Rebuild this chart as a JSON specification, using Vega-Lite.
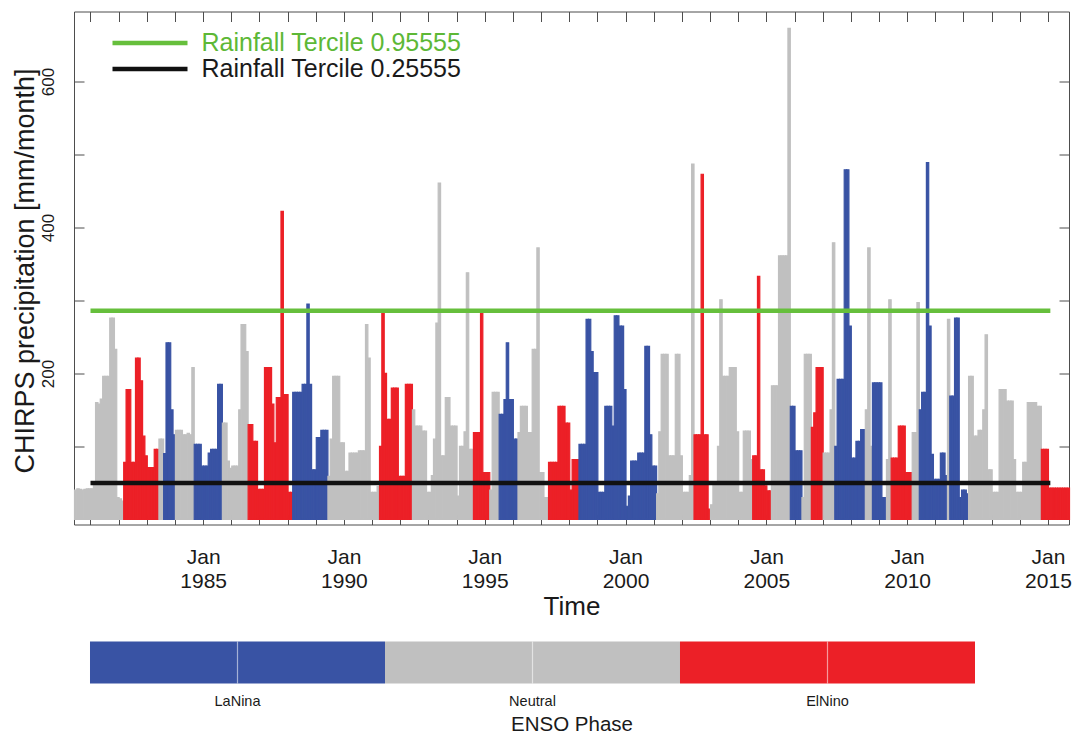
{
  "$schema": "https://vega.github.io/schema/vega-lite/v6.json",
  "background": "white",
  "padding": {"left": 10, "top": 10.5, "right": 0, "bottom": 0},
  "spacing": 20,
  "config": {
    "font": "Liberation Sans",
    "view": {"stroke": "#4d4d4d", "strokeWidth": 1},
    "axis": {"domain": false, "grid": false, "ticks": true, "tickColor": "#4d4d4d", "tickWidth": 1, "labelColor": "#1a1a1a", "titleColor": "#1a1a1a", "titleFontWeight": "normal", "zindex": 1}
  },
  "datasets": {
    "months": [
      {"d":"1980-06-01","p":40,"e":"Neutral"},{"d":"1980-07-01","p":42,"e":"Neutral"},{"d":"1980-08-01","p":41,"e":"Neutral"},{"d":"1980-09-01","p":40,"e":"Neutral"},{"d":"1980-10-01","p":41,"e":"Neutral"},{"d":"1980-11-01","p":42,"e":"Neutral"},{"d":"1980-12-01","p":42,"e":"Neutral"},
      {"d":"1981-01-01","p":42,"e":"Neutral"},{"d":"1981-02-01","p":48,"e":"Neutral"},{"d":"1981-03-01","p":160,"e":"Neutral"},{"d":"1981-04-01","p":158,"e":"Neutral"},{"d":"1981-05-01","p":165,"e":"Neutral"},{"d":"1981-06-01","p":196,"e":"Neutral"},{"d":"1981-07-01","p":196,"e":"Neutral"},{"d":"1981-08-01","p":196,"e":"Neutral"},{"d":"1981-09-01","p":276,"e":"Neutral"},{"d":"1981-10-01","p":276,"e":"Neutral"},{"d":"1981-11-01","p":233,"e":"Neutral"},{"d":"1981-12-01","p":30,"e":"Neutral"},
      {"d":"1982-01-01","p":28,"e":"Neutral"},{"d":"1982-02-01","p":25,"e":"Neutral"},{"d":"1982-03-01","p":78,"e":"ElNino"},{"d":"1982-04-01","p":178,"e":"ElNino"},{"d":"1982-05-01","p":178,"e":"ElNino"},{"d":"1982-06-01","p":78,"e":"ElNino"},{"d":"1982-07-01","p":78,"e":"ElNino"},{"d":"1982-08-01","p":221,"e":"ElNino"},{"d":"1982-09-01","p":221,"e":"ElNino"},{"d":"1982-10-01","p":190,"e":"ElNino"},{"d":"1982-11-01","p":114,"e":"ElNino"},{"d":"1982-12-01","p":87,"e":"ElNino"},
      {"d":"1983-01-01","p":71,"e":"ElNino"},{"d":"1983-02-01","p":71,"e":"ElNino"},{"d":"1983-03-01","p":71,"e":"ElNino"},{"d":"1983-04-01","p":96,"e":"ElNino"},{"d":"1983-05-01","p":96,"e":"ElNino"},{"d":"1983-06-01","p":110,"e":"Neutral"},{"d":"1983-07-01","p":110,"e":"Neutral"},{"d":"1983-08-01","p":90,"e":"LaNina"},{"d":"1983-09-01","p":242,"e":"LaNina"},{"d":"1983-10-01","p":242,"e":"LaNina"},{"d":"1983-11-01","p":150,"e":"LaNina"},{"d":"1983-12-01","p":116,"e":"LaNina"},
      {"d":"1984-01-01","p":122,"e":"Neutral"},{"d":"1984-02-01","p":122,"e":"Neutral"},{"d":"1984-03-01","p":122,"e":"Neutral"},{"d":"1984-04-01","p":116,"e":"Neutral"},{"d":"1984-05-01","p":116,"e":"Neutral"},{"d":"1984-06-01","p":118,"e":"Neutral"},{"d":"1984-07-01","p":116,"e":"Neutral"},{"d":"1984-08-01","p":208,"e":"Neutral"},{"d":"1984-09-01","p":103,"e":"LaNina"},{"d":"1984-10-01","p":103,"e":"LaNina"},{"d":"1984-11-01","p":103,"e":"LaNina"},{"d":"1984-12-01","p":73,"e":"LaNina"},
      {"d":"1985-01-01","p":73,"e":"LaNina"},{"d":"1985-02-01","p":73,"e":"LaNina"},{"d":"1985-03-01","p":91,"e":"LaNina"},{"d":"1985-04-01","p":96,"e":"LaNina"},{"d":"1985-05-01","p":96,"e":"LaNina"},{"d":"1985-06-01","p":96,"e":"LaNina"},{"d":"1985-07-01","p":185,"e":"LaNina"},{"d":"1985-08-01","p":185,"e":"LaNina"},{"d":"1985-09-01","p":132,"e":"Neutral"},{"d":"1985-10-01","p":132,"e":"Neutral"},{"d":"1985-11-01","p":80,"e":"Neutral"},{"d":"1985-12-01","p":70,"e":"Neutral"},
      {"d":"1986-01-01","p":73,"e":"Neutral"},{"d":"1986-02-01","p":73,"e":"Neutral"},{"d":"1986-03-01","p":73,"e":"Neutral"},{"d":"1986-04-01","p":150,"e":"Neutral"},{"d":"1986-05-01","p":267,"e":"Neutral"},{"d":"1986-06-01","p":267,"e":"Neutral"},{"d":"1986-07-01","p":230,"e":"Neutral"},{"d":"1986-08-01","p":130,"e":"ElNino"},{"d":"1986-09-01","p":130,"e":"ElNino"},{"d":"1986-10-01","p":107,"e":"ElNino"},{"d":"1986-11-01","p":107,"e":"ElNino"},{"d":"1986-12-01","p":41,"e":"ElNino"},
      {"d":"1987-01-01","p":41,"e":"ElNino"},{"d":"1987-02-01","p":41,"e":"ElNino"},{"d":"1987-03-01","p":208,"e":"ElNino"},{"d":"1987-04-01","p":208,"e":"ElNino"},{"d":"1987-05-01","p":208,"e":"ElNino"},{"d":"1987-06-01","p":158,"e":"ElNino"},{"d":"1987-07-01","p":105,"e":"ElNino"},{"d":"1987-08-01","p":167,"e":"ElNino"},{"d":"1987-09-01","p":167,"e":"ElNino"},{"d":"1987-10-01","p":422,"e":"ElNino"},{"d":"1987-11-01","p":171,"e":"ElNino"},{"d":"1987-12-01","p":171,"e":"ElNino"},
      {"d":"1988-01-01","p":37,"e":"ElNino"},{"d":"1988-02-01","p":37,"e":"ElNino"},{"d":"1988-03-01","p":174,"e":"LaNina"},{"d":"1988-04-01","p":174,"e":"LaNina"},{"d":"1988-05-01","p":174,"e":"LaNina"},{"d":"1988-06-01","p":174,"e":"LaNina"},{"d":"1988-07-01","p":185,"e":"LaNina"},{"d":"1988-08-01","p":185,"e":"LaNina"},{"d":"1988-09-01","p":295,"e":"LaNina"},{"d":"1988-10-01","p":185,"e":"LaNina"},{"d":"1988-11-01","p":68,"e":"LaNina"},{"d":"1988-12-01","p":68,"e":"LaNina"},
      {"d":"1989-01-01","p":112,"e":"LaNina"},{"d":"1989-02-01","p":112,"e":"LaNina"},{"d":"1989-03-01","p":122,"e":"LaNina"},{"d":"1989-04-01","p":122,"e":"LaNina"},{"d":"1989-05-01","p":122,"e":"LaNina"},{"d":"1989-06-01","p":59,"e":"Neutral"},{"d":"1989-07-01","p":110,"e":"Neutral"},{"d":"1989-08-01","p":196,"e":"Neutral"},{"d":"1989-09-01","p":196,"e":"Neutral"},{"d":"1989-10-01","p":196,"e":"Neutral"},{"d":"1989-11-01","p":105,"e":"Neutral"},{"d":"1989-12-01","p":105,"e":"Neutral"},
      {"d":"1990-01-01","p":66,"e":"Neutral"},{"d":"1990-02-01","p":66,"e":"Neutral"},{"d":"1990-03-01","p":91,"e":"Neutral"},{"d":"1990-04-01","p":91,"e":"Neutral"},{"d":"1990-05-01","p":91,"e":"Neutral"},{"d":"1990-06-01","p":91,"e":"Neutral"},{"d":"1990-07-01","p":94,"e":"Neutral"},{"d":"1990-08-01","p":94,"e":"Neutral"},{"d":"1990-09-01","p":94,"e":"Neutral"},{"d":"1990-10-01","p":267,"e":"Neutral"},{"d":"1990-11-01","p":221,"e":"Neutral"},{"d":"1990-12-01","p":37,"e":"Neutral"},
      {"d":"1991-01-01","p":37,"e":"Neutral"},{"d":"1991-02-01","p":37,"e":"Neutral"},{"d":"1991-03-01","p":45,"e":"Neutral"},{"d":"1991-04-01","p":100,"e":"ElNino"},{"d":"1991-05-01","p":285,"e":"ElNino"},{"d":"1991-06-01","p":200,"e":"ElNino"},{"d":"1991-07-01","p":137,"e":"ElNino"},{"d":"1991-08-01","p":137,"e":"ElNino"},{"d":"1991-09-01","p":180,"e":"ElNino"},{"d":"1991-10-01","p":180,"e":"ElNino"},{"d":"1991-11-01","p":180,"e":"ElNino"},{"d":"1991-12-01","p":59,"e":"ElNino"},
      {"d":"1992-01-01","p":59,"e":"ElNino"},{"d":"1992-02-01","p":59,"e":"ElNino"},{"d":"1992-03-01","p":185,"e":"ElNino"},{"d":"1992-04-01","p":185,"e":"ElNino"},{"d":"1992-05-01","p":185,"e":"ElNino"},{"d":"1992-06-01","p":150,"e":"Neutral"},{"d":"1992-07-01","p":128,"e":"Neutral"},{"d":"1992-08-01","p":128,"e":"Neutral"},{"d":"1992-09-01","p":128,"e":"Neutral"},{"d":"1992-10-01","p":121,"e":"Neutral"},{"d":"1992-11-01","p":121,"e":"Neutral"},{"d":"1992-12-01","p":37,"e":"Neutral"},
      {"d":"1993-01-01","p":37,"e":"Neutral"},{"d":"1993-02-01","p":60,"e":"Neutral"},{"d":"1993-03-01","p":110,"e":"Neutral"},{"d":"1993-04-01","p":269,"e":"Neutral"},{"d":"1993-05-01","p":461,"e":"Neutral"},{"d":"1993-06-01","p":87,"e":"Neutral"},{"d":"1993-07-01","p":87,"e":"Neutral"},{"d":"1993-08-01","p":167,"e":"Neutral"},{"d":"1993-09-01","p":167,"e":"Neutral"},{"d":"1993-10-01","p":128,"e":"Neutral"},{"d":"1993-11-01","p":128,"e":"Neutral"},{"d":"1993-12-01","p":128,"e":"Neutral"},
      {"d":"1994-01-01","p":32,"e":"Neutral"},{"d":"1994-02-01","p":100,"e":"Neutral"},{"d":"1994-03-01","p":100,"e":"Neutral"},{"d":"1994-04-01","p":120,"e":"Neutral"},{"d":"1994-05-01","p":338,"e":"Neutral"},{"d":"1994-06-01","p":96,"e":"Neutral"},{"d":"1994-07-01","p":96,"e":"Neutral"},{"d":"1994-08-01","p":119,"e":"ElNino"},{"d":"1994-09-01","p":119,"e":"ElNino"},{"d":"1994-10-01","p":119,"e":"ElNino"},{"d":"1994-11-01","p":283,"e":"ElNino"},{"d":"1994-12-01","p":64,"e":"ElNino"},
      {"d":"1995-01-01","p":64,"e":"ElNino"},{"d":"1995-02-01","p":64,"e":"ElNino"},{"d":"1995-03-01","p":40,"e":"Neutral"},{"d":"1995-04-01","p":174,"e":"Neutral"},{"d":"1995-05-01","p":174,"e":"Neutral"},{"d":"1995-06-01","p":174,"e":"Neutral"},{"d":"1995-07-01","p":144,"e":"LaNina"},{"d":"1995-08-01","p":144,"e":"LaNina"},{"d":"1995-09-01","p":164,"e":"LaNina"},{"d":"1995-10-01","p":242,"e":"LaNina"},{"d":"1995-11-01","p":164,"e":"LaNina"},{"d":"1995-12-01","p":164,"e":"LaNina"},
      {"d":"1996-01-01","p":110,"e":"LaNina"},{"d":"1996-02-01","p":110,"e":"LaNina"},{"d":"1996-03-01","p":119,"e":"Neutral"},{"d":"1996-04-01","p":155,"e":"Neutral"},{"d":"1996-05-01","p":155,"e":"Neutral"},{"d":"1996-06-01","p":155,"e":"Neutral"},{"d":"1996-07-01","p":119,"e":"Neutral"},{"d":"1996-08-01","p":119,"e":"Neutral"},{"d":"1996-09-01","p":233,"e":"Neutral"},{"d":"1996-10-01","p":233,"e":"Neutral"},{"d":"1996-11-01","p":372,"e":"Neutral"},{"d":"1996-12-01","p":64,"e":"Neutral"},
      {"d":"1997-01-01","p":64,"e":"Neutral"},{"d":"1997-02-01","p":30,"e":"Neutral"},{"d":"1997-03-01","p":30,"e":"Neutral"},{"d":"1997-04-01","p":78,"e":"ElNino"},{"d":"1997-05-01","p":78,"e":"ElNino"},{"d":"1997-06-01","p":78,"e":"ElNino"},{"d":"1997-07-01","p":78,"e":"ElNino"},{"d":"1997-08-01","p":155,"e":"ElNino"},{"d":"1997-09-01","p":155,"e":"ElNino"},{"d":"1997-10-01","p":155,"e":"ElNino"},{"d":"1997-11-01","p":132,"e":"ElNino"},{"d":"1997-12-01","p":132,"e":"ElNino"},
      {"d":"1998-01-01","p":40,"e":"ElNino"},{"d":"1998-02-01","p":82,"e":"ElNino"},{"d":"1998-03-01","p":82,"e":"ElNino"},{"d":"1998-04-01","p":82,"e":"ElNino"},{"d":"1998-05-01","p":103,"e":"LaNina"},{"d":"1998-06-01","p":103,"e":"LaNina"},{"d":"1998-07-01","p":103,"e":"LaNina"},{"d":"1998-08-01","p":274,"e":"LaNina"},{"d":"1998-09-01","p":274,"e":"LaNina"},{"d":"1998-10-01","p":230,"e":"LaNina"},{"d":"1998-11-01","p":201,"e":"LaNina"},{"d":"1998-12-01","p":201,"e":"LaNina"},
      {"d":"1999-01-01","p":37,"e":"LaNina"},{"d":"1999-02-01","p":37,"e":"LaNina"},{"d":"1999-03-01","p":37,"e":"LaNina"},{"d":"1999-04-01","p":155,"e":"LaNina"},{"d":"1999-05-01","p":155,"e":"LaNina"},{"d":"1999-06-01","p":155,"e":"LaNina"},{"d":"1999-07-01","p":128,"e":"LaNina"},{"d":"1999-08-01","p":279,"e":"LaNina"},{"d":"1999-09-01","p":279,"e":"LaNina"},{"d":"1999-10-01","p":265,"e":"LaNina"},{"d":"1999-11-01","p":265,"e":"LaNina"},{"d":"1999-12-01","p":178,"e":"LaNina"},
      {"d":"2000-01-01","p":18,"e":"LaNina"},{"d":"2000-02-01","p":32,"e":"LaNina"},{"d":"2000-03-01","p":80,"e":"LaNina"},{"d":"2000-04-01","p":80,"e":"LaNina"},{"d":"2000-05-01","p":80,"e":"LaNina"},{"d":"2000-06-01","p":91,"e":"LaNina"},{"d":"2000-07-01","p":91,"e":"LaNina"},{"d":"2000-08-01","p":91,"e":"LaNina"},{"d":"2000-09-01","p":237,"e":"LaNina"},{"d":"2000-10-01","p":237,"e":"LaNina"},{"d":"2000-11-01","p":116,"e":"LaNina"},{"d":"2000-12-01","p":73,"e":"LaNina"},
      {"d":"2001-01-01","p":73,"e":"LaNina"},{"d":"2001-02-01","p":35,"e":"Neutral"},{"d":"2001-03-01","p":120,"e":"Neutral"},{"d":"2001-04-01","p":226,"e":"Neutral"},{"d":"2001-05-01","p":226,"e":"Neutral"},{"d":"2001-06-01","p":226,"e":"Neutral"},{"d":"2001-07-01","p":87,"e":"Neutral"},{"d":"2001-08-01","p":87,"e":"Neutral"},{"d":"2001-09-01","p":87,"e":"Neutral"},{"d":"2001-10-01","p":226,"e":"Neutral"},{"d":"2001-11-01","p":226,"e":"Neutral"},{"d":"2001-12-01","p":87,"e":"Neutral"},
      {"d":"2002-01-01","p":37,"e":"Neutral"},{"d":"2002-02-01","p":37,"e":"Neutral"},{"d":"2002-03-01","p":37,"e":"Neutral"},{"d":"2002-04-01","p":60,"e":"Neutral"},{"d":"2002-05-01","p":487,"e":"Neutral"},{"d":"2002-06-01","p":116,"e":"ElNino"},{"d":"2002-07-01","p":116,"e":"ElNino"},{"d":"2002-08-01","p":116,"e":"ElNino"},{"d":"2002-09-01","p":473,"e":"ElNino"},{"d":"2002-10-01","p":116,"e":"ElNino"},{"d":"2002-11-01","p":116,"e":"ElNino"},{"d":"2002-12-01","p":14,"e":"ElNino"},
      {"d":"2003-01-01","p":20,"e":"Neutral"},{"d":"2003-02-01","p":50,"e":"Neutral"},{"d":"2003-03-01","p":50,"e":"Neutral"},{"d":"2003-04-01","p":100,"e":"Neutral"},{"d":"2003-05-01","p":301,"e":"Neutral"},{"d":"2003-06-01","p":196,"e":"Neutral"},{"d":"2003-07-01","p":196,"e":"Neutral"},{"d":"2003-08-01","p":196,"e":"Neutral"},{"d":"2003-09-01","p":208,"e":"Neutral"},{"d":"2003-10-01","p":208,"e":"Neutral"},{"d":"2003-11-01","p":208,"e":"Neutral"},{"d":"2003-12-01","p":120,"e":"Neutral"},
      {"d":"2004-01-01","p":37,"e":"Neutral"},{"d":"2004-02-01","p":37,"e":"Neutral"},{"d":"2004-03-01","p":121,"e":"Neutral"},{"d":"2004-04-01","p":121,"e":"Neutral"},{"d":"2004-05-01","p":121,"e":"Neutral"},{"d":"2004-06-01","p":82,"e":"Neutral"},{"d":"2004-07-01","p":87,"e":"ElNino"},{"d":"2004-08-01","p":87,"e":"ElNino"},{"d":"2004-09-01","p":333,"e":"ElNino"},{"d":"2004-10-01","p":68,"e":"ElNino"},{"d":"2004-11-01","p":68,"e":"ElNino"},{"d":"2004-12-01","p":46,"e":"ElNino"},
      {"d":"2005-01-01","p":39,"e":"ElNino"},{"d":"2005-02-01","p":39,"e":"ElNino"},{"d":"2005-03-01","p":183,"e":"Neutral"},{"d":"2005-04-01","p":183,"e":"Neutral"},{"d":"2005-05-01","p":183,"e":"Neutral"},{"d":"2005-06-01","p":361,"e":"Neutral"},{"d":"2005-07-01","p":361,"e":"Neutral"},{"d":"2005-08-01","p":361,"e":"Neutral"},{"d":"2005-09-01","p":361,"e":"Neutral"},{"d":"2005-10-01","p":673,"e":"Neutral"},{"d":"2005-11-01","p":155,"e":"LaNina"},{"d":"2005-12-01","p":155,"e":"LaNina"},
      {"d":"2006-01-01","p":94,"e":"LaNina"},{"d":"2006-02-01","p":94,"e":"LaNina"},{"d":"2006-03-01","p":94,"e":"LaNina"},{"d":"2006-04-01","p":30,"e":"Neutral"},{"d":"2006-05-01","p":226,"e":"Neutral"},{"d":"2006-06-01","p":226,"e":"Neutral"},{"d":"2006-07-01","p":226,"e":"Neutral"},{"d":"2006-08-01","p":126,"e":"ElNino"},{"d":"2006-09-01","p":146,"e":"ElNino"},{"d":"2006-10-01","p":208,"e":"ElNino"},{"d":"2006-11-01","p":208,"e":"ElNino"},{"d":"2006-12-01","p":208,"e":"ElNino"},
      {"d":"2007-01-01","p":91,"e":"Neutral"},{"d":"2007-02-01","p":91,"e":"Neutral"},{"d":"2007-03-01","p":91,"e":"Neutral"},{"d":"2007-04-01","p":150,"e":"Neutral"},{"d":"2007-05-01","p":379,"e":"Neutral"},{"d":"2007-06-01","p":100,"e":"LaNina"},{"d":"2007-07-01","p":192,"e":"LaNina"},{"d":"2007-08-01","p":192,"e":"LaNina"},{"d":"2007-09-01","p":192,"e":"LaNina"},{"d":"2007-10-01","p":479,"e":"LaNina"},{"d":"2007-11-01","p":479,"e":"LaNina"},{"d":"2007-12-01","p":265,"e":"LaNina"},
      {"d":"2008-01-01","p":84,"e":"LaNina"},{"d":"2008-02-01","p":84,"e":"LaNina"},{"d":"2008-03-01","p":107,"e":"LaNina"},{"d":"2008-04-01","p":107,"e":"LaNina"},{"d":"2008-05-01","p":123,"e":"LaNina"},{"d":"2008-06-01","p":123,"e":"LaNina"},{"d":"2008-07-01","p":150,"e":"Neutral"},{"d":"2008-08-01","p":372,"e":"Neutral"},{"d":"2008-09-01","p":100,"e":"Neutral"},{"d":"2008-10-01","p":187,"e":"LaNina"},{"d":"2008-11-01","p":187,"e":"LaNina"},{"d":"2008-12-01","p":187,"e":"LaNina"},
      {"d":"2009-01-01","p":187,"e":"LaNina"},{"d":"2009-02-01","p":30,"e":"LaNina"},{"d":"2009-03-01","p":30,"e":"LaNina"},{"d":"2009-04-01","p":82,"e":"Neutral"},{"d":"2009-05-01","p":301,"e":"Neutral"},{"d":"2009-06-01","p":84,"e":"ElNino"},{"d":"2009-07-01","p":84,"e":"ElNino"},{"d":"2009-08-01","p":84,"e":"ElNino"},{"d":"2009-09-01","p":128,"e":"ElNino"},{"d":"2009-10-01","p":128,"e":"ElNino"},{"d":"2009-11-01","p":128,"e":"ElNino"},{"d":"2009-12-01","p":64,"e":"ElNino"},
      {"d":"2010-01-01","p":64,"e":"ElNino"},{"d":"2010-02-01","p":64,"e":"ElNino"},{"d":"2010-03-01","p":119,"e":"Neutral"},{"d":"2010-04-01","p":119,"e":"Neutral"},{"d":"2010-05-01","p":297,"e":"Neutral"},{"d":"2010-06-01","p":150,"e":"LaNina"},{"d":"2010-07-01","p":174,"e":"LaNina"},{"d":"2010-08-01","p":174,"e":"LaNina"},{"d":"2010-09-01","p":489,"e":"LaNina"},{"d":"2010-10-01","p":265,"e":"LaNina"},{"d":"2010-11-01","p":89,"e":"LaNina"},{"d":"2010-12-01","p":55,"e":"LaNina"},
      {"d":"2011-01-01","p":55,"e":"LaNina"},{"d":"2011-02-01","p":55,"e":"LaNina"},{"d":"2011-03-01","p":91,"e":"LaNina"},{"d":"2011-04-01","p":91,"e":"LaNina"},{"d":"2011-05-01","p":60,"e":"LaNina"},{"d":"2011-06-01","p":274,"e":"Neutral"},{"d":"2011-07-01","p":169,"e":"LaNina"},{"d":"2011-08-01","p":169,"e":"LaNina"},{"d":"2011-09-01","p":276,"e":"LaNina"},{"d":"2011-10-01","p":276,"e":"LaNina"},{"d":"2011-11-01","p":30,"e":"LaNina"},{"d":"2011-12-01","p":40,"e":"LaNina"},
      {"d":"2012-01-01","p":40,"e":"LaNina"},{"d":"2012-02-01","p":35,"e":"LaNina"},{"d":"2012-03-01","p":196,"e":"Neutral"},{"d":"2012-04-01","p":196,"e":"Neutral"},{"d":"2012-05-01","p":114,"e":"Neutral"},{"d":"2012-06-01","p":114,"e":"Neutral"},{"d":"2012-07-01","p":122,"e":"Neutral"},{"d":"2012-08-01","p":122,"e":"Neutral"},{"d":"2012-09-01","p":150,"e":"Neutral"},{"d":"2012-10-01","p":253,"e":"Neutral"},{"d":"2012-11-01","p":68,"e":"Neutral"},{"d":"2012-12-01","p":68,"e":"Neutral"},
      {"d":"2013-01-01","p":37,"e":"Neutral"},{"d":"2013-02-01","p":37,"e":"Neutral"},{"d":"2013-03-01","p":37,"e":"Neutral"},{"d":"2013-04-01","p":178,"e":"Neutral"},{"d":"2013-05-01","p":178,"e":"Neutral"},{"d":"2013-06-01","p":178,"e":"Neutral"},{"d":"2013-07-01","p":162,"e":"Neutral"},{"d":"2013-08-01","p":162,"e":"Neutral"},{"d":"2013-09-01","p":162,"e":"Neutral"},{"d":"2013-10-01","p":82,"e":"Neutral"},{"d":"2013-11-01","p":37,"e":"Neutral"},{"d":"2013-12-01","p":37,"e":"Neutral"},
      {"d":"2014-01-01","p":37,"e":"Neutral"},{"d":"2014-02-01","p":78,"e":"Neutral"},{"d":"2014-03-01","p":78,"e":"Neutral"},{"d":"2014-04-01","p":160,"e":"Neutral"},{"d":"2014-05-01","p":160,"e":"Neutral"},{"d":"2014-06-01","p":160,"e":"Neutral"},{"d":"2014-07-01","p":160,"e":"Neutral"},{"d":"2014-08-01","p":155,"e":"Neutral"},{"d":"2014-09-01","p":155,"e":"Neutral"},{"d":"2014-10-01","p":96,"e":"ElNino"},{"d":"2014-11-01","p":96,"e":"ElNino"},{"d":"2014-12-01","p":96,"e":"ElNino"},
      {"d":"2015-01-01","p":43,"e":"ElNino"},{"d":"2015-02-01","p":43,"e":"ElNino"},{"d":"2015-03-01","p":43,"e":"ElNino"},{"d":"2015-04-01","p":43,"e":"ElNino"},{"d":"2015-05-01","p":43,"e":"ElNino"},{"d":"2015-06-01","p":43,"e":"ElNino"},{"d":"2015-07-01","p":43,"e":"ElNino"},{"d":"2015-08-01","p":43,"e":"ElNino"},{"d":"2015-09-01","p":43,"e":"ElNino"}
    ],
    "terciles": [
      {"label": "Rainfall Tercile 0.95555", "v": 286, "start": "1981-01-01", "end": "2015-02-01"},
      {"label": "Rainfall Tercile 0.25555", "v": 50, "start": "1981-01-01", "end": "2015-02-01"}
    ],
    "phases": [{"phase": "LaNina"}, {"phase": "Neutral"}, {"phase": "ElNino"}]
  },
  "vconcat": [
    {
      "width": 995,
      "height": 513,
      "resolve": {"axis": {"x": "independent", "y": "independent"}},
      "layer": [
        {
          "data": {"name": "months"},
          "mark": {"type": "bar", "binSpacing": 0, "strokeWidth": 1.2},
          "encoding": {
            "x": {
              "field": "d", "type": "temporal", "timeUnit": "utcyearmonth",
              "scale": {"type": "utc", "nice": false, "domain": [{"year": 1980, "month": 6, "date": 1, "utc": true}, {"year": 2015, "month": 10, "date": 1, "utc": true}]},
              "axis": {
                "orient": "bottom", "tickCount": {"interval": "year", "step": 1}, "ticks": true, "tickSize": -10,
                "labelExpr": "utcyear(datum.value) % 5 === 0 ? ['Jan', utcFormat(datum.value, '%Y')] : ''",
                "labelFontSize": 21, "labelLineHeight": 24, "labelBaseline": "top", "labelAlign": "center", "labelPadding": 32,
                "labelOverlap": false, "labelFlush": false, "labelBound": false,
                "title": "Time", "titleFontSize": 26, "titleBaseline": "alphabetic", "titleAlign": "center", "titleX": 497.5, "titleY": 90,
                "encode": {"ticks": {"update": {"y2": {"signal": "utcyear(datum.value) % 5 === 0 ? -15 : -10"}}}}
              }
            },
            "y": {
              "field": "p", "type": "quantitative",
              "scale": {"domain": [-7, 696], "nice": false, "zero": true},
              "axis": {
                "orient": "left", "values": [100, 200, 300, 400, 500, 600], "ticks": true, "tickSize": -10,
                "labelExpr": "datum.value % 200 === 0 ? datum.label : ''",
                "labelAngle": 270, "labelAlign": "center", "labelBaseline": "alphabetic", "labelPadding": 31, "labelFontSize": 17,
                "labelOverlap": false, "labelFlush": false, "labelBound": false,
                "title": "CHIRPS precipitation [mm/month]", "titleFontSize": 27, "titleAngle": 270, "titleBaseline": "alphabetic", "titleAlign": "center", "titleX": -41, "titleY": 259,
                "encode": {"ticks": {"update": {"x2": {"signal": "datum.value % 200 === 0 ? 15 : 10"}}}}
              }
            },
            "fill": {"field": "e", "type": "nominal", "scale": {"domain": ["LaNina", "Neutral", "ElNino"], "range": ["#3953a4", "#c0c0c0", "#ec2027"]}, "legend": null},
            "stroke": {"field": "e", "type": "nominal", "scale": {"domain": ["LaNina", "Neutral", "ElNino"], "range": ["#3953a4", "#c0c0c0", "#ec2027"]}, "legend": null}
          }
        },
        {
          "data": {"name": "terciles"},
          "mark": {"type": "rule", "strokeWidth": 4.5, "strokeCap": "butt"},
          "encoding": {
            "x": {
              "field": "start", "type": "temporal", "scale": {"type": "utc"},
              "axis": {
                "orient": "top", "tickCount": {"interval": "year", "step": 1}, "ticks": true, "tickSize": -10, "labels": false, "title": null,
                "encode": {"ticks": {"update": {"y2": {"signal": "utcyear(datum.value) % 5 === 0 ? 15 : 10"}}}}
              }
            },
            "x2": {"field": "end"},
            "y": {
              "field": "v", "type": "quantitative",
              "axis": {
                "orient": "right", "values": [100, 200, 300, 400, 500, 600], "ticks": true, "tickSize": -10, "labels": false, "title": null,
                "encode": {"ticks": {"update": {"x2": {"signal": "datum.value % 200 === 0 ? -15 : -10"}}}}
              }
            },
            "color": {
              "field": "label", "type": "nominal",
              "scale": {"domain": ["Rainfall Tercile 0.95555", "Rainfall Tercile 0.25555"], "range": ["#66bf3c", "#111111"]},
              "legend": {
                "orient": "none", "legendX": 63.5, "legendY": 19, "title": null,
                "symbolType": "M-3.75,0H3.75", "symbolSize": 400, "symbolStrokeWidth": 4.5,
                "labelFontSize": 25, "labelOffset": 39, "labelLimit": 500, "rowPadding": 0, "padding": 0,
                "encode": {"labels": {"update": {"fill": {"signal": "datum.value === 'Rainfall Tercile 0.95555' ? '#5db836' : '#1a1a1a'"}}}}
              }
            }
          }
        }
      ]
    },
    {
      "width": 995,
      "height": 42,
      "view": {"stroke": null},
      "data": {"name": "phases"},
      "layer": [
        {
          "mark": {"type": "bar"},
          "encoding": {
            "x": {
              "field": "phase", "type": "nominal", "sort": null,
              "scale": {"domain": ["LaNina", "Neutral", "ElNino"], "paddingInner": 0, "paddingOuter": 0.18644, "align": 0.14545},
              "axis": {
                "orient": "bottom", "domain": false, "ticks": false, "labelAngle": 0, "labelFontSize": 14.5, "labelBaseline": "alphabetic", "labelPadding": 22,
                "title": "ENSO Phase", "titleFontSize": 20.5, "titleBaseline": "alphabetic", "titleY": 46.5
              }
            },
            "fill": {"field": "phase", "type": "nominal", "scale": {"domain": ["LaNina", "Neutral", "ElNino"], "range": ["#3953a4", "#c0c0c0", "#ec2027"]}, "legend": null}
          }
        },
        {
          "mark": {"type": "rule", "color": "#ffffff", "strokeWidth": 1.2, "opacity": 0.55},
          "encoding": {"x": {"field": "phase", "type": "nominal", "sort": null}}
        }
      ]
    }
  ]
}
